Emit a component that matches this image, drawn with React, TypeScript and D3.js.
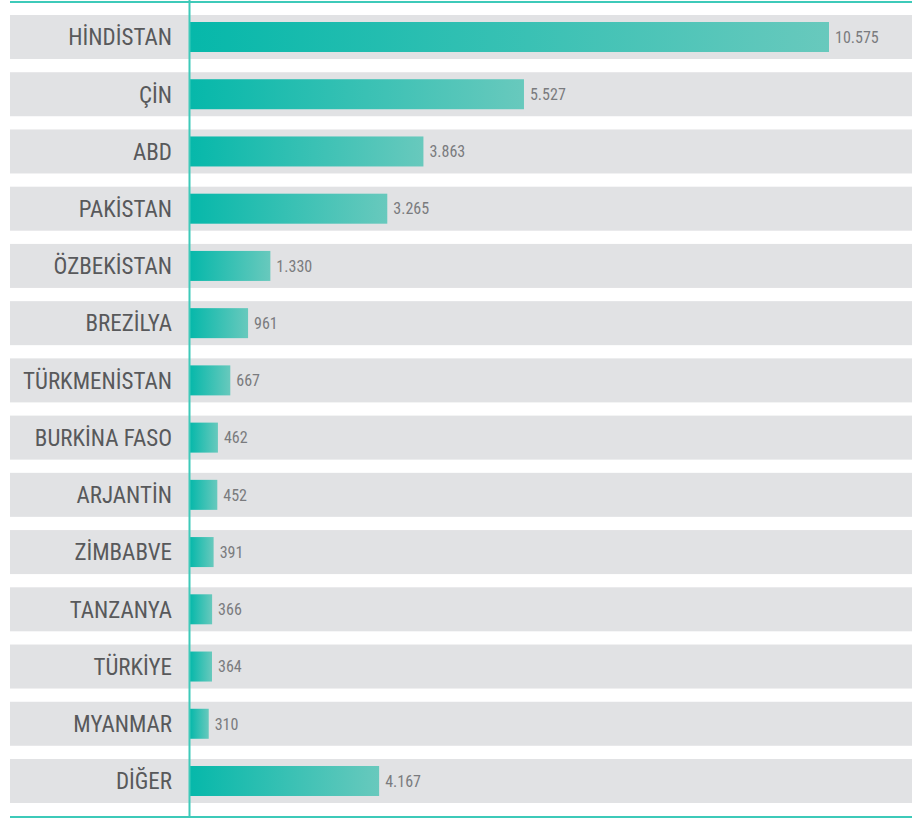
import React from "react";
import * as d3 from "d3";

const categories = [
  "HİNDİSTAN", "ÇİN", "ABD", "PAKİSTAN", "ÖZBEKİSTAN", "BREZİLYA", "TÜRKMENİSTAN",
  "BURKİNA FASO", "ARJANTİN", "ZİMBABVE", "TANZANYA", "TÜRKİYE", "MYANMAR", "DİĞER",
];
const values = [10575, 5527, 3863, 3265, 1330, 961, 667, 462, 452, 391, 366, 364, 310, 4167];
const valueLabels = ["10.575", "5.527", "3.863", "3.265", "1.330", "961", "667", "462", "452", "391", "366", "364", "310", "4.167"];
// bar length as drawn in the picture (DİĞER is drawn shorter than its label)
const drawnValues = [10575, 5527, 3863, 3265, 1330, 961, 667, 462, 452, 391, 366, 364, 310, 3130];

const W = 912;
const H = 818;
const FONT = "'Liberation Sans Narrow', 'Roboto Condensed', 'DejaVu Sans Condensed', sans-serif";

export default function App() {
  const y = d3.scaleBand<string>().domain(categories).range([15, 803]).paddingInner(0.231).paddingOuter(0);
  const x = d3.scaleLinear().domain([0, d3.max(values) as number]).range([190, 829]);
  const barH = 30;
  return (
    <svg width={W} height={H} style={{ position: "absolute", left: 0, top: 0, display: "block" }}>
      <defs>
        <linearGradient id="barGrad" x1="0" x2="1" y1="0" y2="0">
          <stop offset="0%" stopColor="#06b8aa" />
          <stop offset="100%" stopColor="#68c9bd" />
        </linearGradient>
      </defs>
      {categories.map((c, i) => {
        const yy = y(c) as number;
        const bw = y.bandwidth();
        const cy = yy + bw / 2;
        const xe = x(drawnValues[i]);
        return (
          <g key={c}>
            <rect x={10} y={yy} width={W - 10} height={bw} fill="#e1e2e4" />
            <rect x={x(0)} y={cy - barH / 2} width={xe - x(0)} height={barH} fill="url(#barGrad)" />
            <text x={172} y={cy} dy="0.36em" textAnchor="end" fontFamily={FONT} fontSize={23} fill="#58595b">
              {c}
            </text>
            <text x={xe + 6} y={cy} dy="0.36em" fontFamily={FONT} fontSize={16} fill="#7a7b7e">
              {valueLabels[i]}
            </text>
          </g>
        );
      })}
      <line x1={10} x2={W} y1={2} y2={2} stroke="#3ecab9" strokeWidth={2} />
      <line x1={10} x2={W} y1={817} y2={817} stroke="#3ecab9" strokeWidth={2} />
      <line x1={x(0) - 0.5} x2={x(0) - 0.5} y1={0} y2={H} stroke="#3ecab9" strokeWidth={2} />
    </svg>
  );
}
